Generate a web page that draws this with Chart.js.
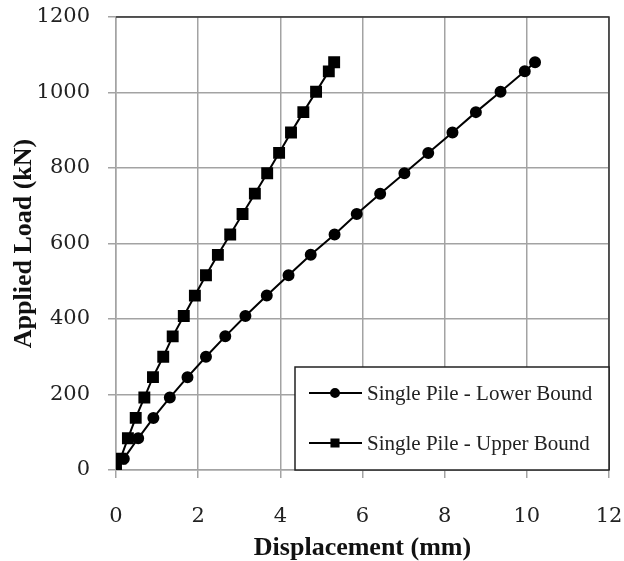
<!DOCTYPE html>
<html>
<head>
<meta charset="utf-8">
<script src="https://cdn.jsdelivr.net/npm/chart.js@4"></script>
<style>
  html, body { margin: 0; padding: 0; background: #fff; }
  #wrap { width: 624px; height: 561px; }
</style>
</head>
<body>
<div id="wrap"><canvas id="pileChart" width="624" height="561"></canvas></div>
<script>
// values
const loads = [0, 30, 84, 138, 192, 246, 300, 354, 408, 462, 516, 570, 624, 678, 732, 786, 840, 894, 948, 1002, 1056, 1080];
const dispLower = [0, 0.19, 0.54, 0.91, 1.31, 1.74, 2.19, 2.66, 3.15, 3.67, 4.20, 4.74, 5.32, 5.86, 6.43, 7.02, 7.60, 8.19, 8.76, 9.36, 9.95, 10.2];
const dispUpper = [0, 0.11, 0.29, 0.48, 0.69, 0.90, 1.15, 1.38, 1.65, 1.92, 2.19, 2.48, 2.78, 3.08, 3.38, 3.68, 3.97, 4.26, 4.56, 4.87, 5.18, 5.31];
const seriesLabels = ["Single Pile - Lower Bound", "Single Pile - Upper Bound"];

const toPoints = (xs) => xs.map((x, i) => ({ x: x, y: loads[i] }));

const gridColor = "#a3a3a3";
const tickFont = { family: "DejaVu Serif", size: 21 };
const titleFont = { family: "Liberation Serif", size: 26, weight: "bold" };

// top/right frame plus the boxed legend sitting in the lower right corner
const frameAndLegend = {
  id: "frameAndLegend",
  afterDraw(chart) {
    const ctx = chart.ctx;
    const a = chart.chartArea;
    ctx.save();
    ctx.strokeStyle = "#333";
    ctx.lineWidth = 1.5;
    ctx.beginPath();
    ctx.moveTo(a.left, a.top);
    ctx.lineTo(a.right, a.top);
    ctx.lineTo(a.right, a.bottom);
    ctx.stroke();

    const boxW = 314, boxH = 103;
    const bx = a.right - boxW, by = a.bottom - boxH;
    ctx.fillStyle = "#fff";
    ctx.fillRect(bx, by, boxW, boxH);
    ctx.strokeStyle = "#222";
    ctx.lineWidth = 1.5;
    ctx.strokeRect(bx, by, boxW, boxH);

    chart.data.datasets.forEach((ds, i) => {
      const ry = by + 26 + i * 50;
      ctx.strokeStyle = ds.borderColor;
      ctx.lineWidth = ds.borderWidth;
      ctx.beginPath();
      ctx.moveTo(bx + 14, ry);
      ctx.lineTo(bx + 67, ry);
      ctx.stroke();
      Chart.helpers.drawPoint(ctx, {
        pointStyle: ds.pointStyle,
        radius: ds.pointStyle === "rect" ? 5 : 4,
        borderWidth: 1
      }, bx + 40, ry);
      ctx.fillStyle = ds.pointBackgroundColor;
      ctx.fill();
      ctx.fillStyle = "#222";
      ctx.font = "21px 'Liberation Serif'";
      ctx.textAlign = "left";
      ctx.textBaseline = "middle";
      ctx.fillText(ds.label, bx + 72, ry + 1);
    });
    ctx.restore();
  }
};

new Chart(document.getElementById("pileChart"), {
  type: "line",
  data: {
    datasets: [
      {
        label: seriesLabels[0],
        data: toPoints(dispLower),
        borderColor: "#000",
        borderWidth: 2,
        pointStyle: "circle",
        pointRadius: 5,
        pointBackgroundColor: "#000",
        pointBorderColor: "#000",
        order: 1
      },
      {
        label: seriesLabels[1],
        data: toPoints(dispUpper),
        borderColor: "#000",
        borderWidth: 2,
        pointStyle: "rect",
        pointRadius: 7,
        pointBackgroundColor: "#000",
        pointBorderColor: "#000",
        order: 0
      }
    ]
  },
  options: {
    responsive: false,
    animation: false,
    layout: { padding: { top: 17, right: 15, bottom: 0, left: 0 } },
    plugins: { legend: { display: false }, tooltip: { enabled: false } },
    scales: {
      x: {
        type: "linear",
        min: 0, max: 12,
        ticks: { stepSize: 2, color: "#222", font: tickFont, padding: 26, callback: (v) => String(v) },
        grid: { color: gridColor, lineWidth: 1.5, tickLength: 8 },
        border: { color: gridColor, width: 1.5 },
        title: { display: true, text: "Displacement (mm)", color: "#111", font: titleFont, padding: { top: 0, bottom: -3 } },
        afterFit(s) { s.height = 91; s.paddingLeft = 0; s.paddingRight = 0; }
      },
      y: {
        min: 0, max: 1200,
        ticks: { stepSize: 200, color: "#222", font: tickFont, padding: 18, callback: (v) => String(v) },
        grid: { color: gridColor, lineWidth: 1.5, tickLength: 8 },
        border: { color: gridColor, width: 1.5 },
        title: { display: true, text: "Applied Load (kN)", color: "#111", font: titleFont, padding: { top: 9, bottom: 0 } },
        afterFit(s) { s.width = 116; s.paddingTop = 0; s.paddingBottom = 0; }
      }
    }
  },
  plugins: [frameAndLegend]
});
</script>
</body>
</html>
